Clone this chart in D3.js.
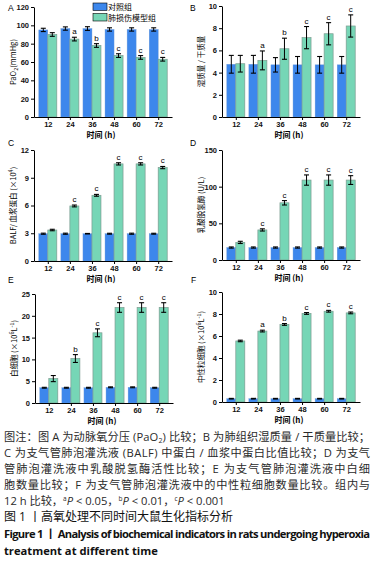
<!DOCTYPE html>
<html>
<head>
<meta charset="utf-8">
<script src="https://cdn.jsdelivr.net/npm/d3@7"></script>
<style>
  body { margin: 0; background: #fff; }
  svg { display: block; }
  .tick text { font-family: "Liberation Sans", Arial, sans-serif; font-size: 7.5px; font-weight: bold; fill: #111; }
</style>
</head>
<body>
<div id="chart"></div>
<script>
// time points (h)
var times = [12, 24, 36, 48, 60, 72];
var seriesNames = ["对照组", "肺损伤模型组"];

// A: PaO2
var paoCtrl = [95, 96.5, 96.5, 95.5, 95.5, 95.5];
var paoCtrlErr = [1.8, 1.8, 2, 1.8, 1.8, 1.8];
var paoModel = [90, 85, 78, 67, 65, 63];
var paoModelErr = [2, 2, 2, 2, 2, 2];
var paoSig = ["", "a", "b", "c", "c", "c"];

// B: wet / dry
var wdCtrl = [4.75, 4.75, 4.7, 4.7, 4.7, 4.7];
var wdCtrlErr = [0.8, 0.8, 0.65, 0.75, 0.75, 0.75];
var wdModel = [4.8, 5.1, 6.15, 7.15, 7.5, 8.2];
var wdModelErr = [0.75, 0.85, 0.95, 1.0, 1.0, 1.0];
var wdSig = ["", "a", "b", "c", "c", "c"];

// C: BALF / plasma protein
var balfCtrl = [2.95, 2.95, 2.95, 2.95, 2.95, 2.95];
var balfCtrlErr = [0.06, 0.06, 0.03, 0.05, 0.06, 0.05];
var balfModel = [3.35, 5.95, 7.1, 10.5, 10.5, 10.1];
var balfModelErr = [0.08, 0.1, 0.1, 0.12, 0.12, 0.12];
var balfSig = ["", "c", "c", "c", "c", "c"];

// D: LDH
var ldhCtrl = [17, 17, 17, 17, 17, 17];
var ldhCtrlErr = [0.8, 0.8, 0.8, 0.8, 0.8, 0.8];
var ldhModel = [24, 41, 78, 109, 109, 109];
var ldhModelErr = [1.5, 1.5, 3, 7, 7, 6];
var ldhSig = ["", "c", "c", "c", "c", "c"];

// E: white cells
var wbcCtrl = [3.5, 3.5, 3.5, 3.6, 3.6, 3.5];
var wbcCtrlErr = [0.1, 0.1, 0.1, 0.1, 0.1, 0.1];
var wbcModel = [5.6, 10.2, 16.1, 21.9, 21.9, 21.9];
var wbcModelErr = [0.7, 0.9, 0.9, 1.1, 1.1, 1.1];
var wbcSig = ["", "b", "c", "c", "c", "c"];

// F: neutrophils
var neuCtrl = [0.3, 0.3, 0.3, 0.3, 0.3, 0.3];
var neuCtrlErr = [0.03, 0.03, 0.03, 0.03, 0.03, 0.03];
var neuModel = [5.55, 6.45, 7.05, 8.05, 8.25, 8.1];
var neuModelErr = [0.07, 0.08, 0.08, 0.08, 0.08, 0.08];
var neuSig = ["", "a", "b", "c", "c", "c"];

var blue = "#3d87ec", green = "#76d6b6";

const svg = d3.select("#chart").append("svg")
    .attr("width", 374).attr("height", 562);

var cjk = "'Noto Sans CJK SC', 'Liberation Sans', sans-serif";

function drawPanel(p) {
    var g = svg.append("g");

    var x = d3.scalePoint().domain(times).range([p.left, p.right]).padding(0.625);
    var y = d3.scaleLinear().domain([0, p.ymax]).range([p.bottom, p.top]);
    var bw = 9;

    // bars
    g.selectAll(".bc").data(p.ctrl).join("rect")
        .attr("x", (d, i) => x(times[i]) - bw)
        .attr("y", d => y(d))
        .attr("width", bw)
        .attr("height", d => y(0) - y(d))
        .attr("fill", blue).attr("stroke", "#6b9ad8").attr("stroke-width", 0.4);
    g.selectAll(".bm").data(p.model).join("rect")
        .attr("x", (d, i) => x(times[i]))
        .attr("y", d => y(d))
        .attr("width", bw)
        .attr("height", d => y(0) - y(d))
        .attr("fill", green).attr("stroke", "#7d9c91").attr("stroke-width", 0.7);

    // error bars
    function errBars(vals, errs, off) {
        vals.forEach(function (v, i) {
            var cx = x(times[i]) + off;
            var y1 = y(v + errs[i]), y2 = y(v - errs[i]);
            g.append("line").attr("x1", cx).attr("x2", cx).attr("y1", y1).attr("y2", y2)
                .attr("stroke", "#000").attr("stroke-width", 1);
            [y1, y2].forEach(function (yy) {
                g.append("line").attr("x1", cx - 2.5).attr("x2", cx + 2.5).attr("y1", yy).attr("y2", yy)
                    .attr("stroke", "#000").attr("stroke-width", 1.1);
            });
        });
    }
    errBars(p.ctrl, p.ctrlErr, -bw / 2);
    errBars(p.model, p.modelErr, bw / 2);

    // significance letters
    p.sig.forEach(function (s, i) {
        if (!s) return;
        g.append("text")
            .attr("x", x(times[i]) + bw / 2)
            .attr("y", y(p.model[i] + p.modelErr[i]) - 3)
            .attr("text-anchor", "middle")
            .attr("font-family", "'Liberation Sans', Arial, sans-serif")
            .attr("font-size", 8)
            .text(s);
    });

    // axes
    g.append("g").attr("transform", `translate(0,${p.bottom})`)
        .call(d3.axisBottom(x).tickSize(3).tickSizeOuter(0).tickPadding(2));
    g.append("g").attr("transform", `translate(${p.left},0)`)
        .call(d3.axisLeft(y).tickValues(d3.range(0, p.ymax + 0.001, p.step)).tickSize(3).tickSizeOuter(0).tickPadding(2));
    g.selectAll(".domain").attr("stroke", "#000");
    g.selectAll(".tick line").attr("stroke", "#000");

    // panel letter
    g.append("text").attr("x", p.lx).attr("y", p.ly)
        .attr("font-family", "'Liberation Sans', Arial, sans-serif").attr("font-size", 8.5)
        .text(p.letter);

    // x label
    g.append("text").attr("x", (p.left + p.right) / 2 - 2).attr("y", p.bottom + 21)
        .attr("text-anchor", "middle").attr("font-family", cjk).attr("font-size", 8).attr("font-weight", "bold")
        .text("时间 (h)");

    // y label
    var yl = g.append("text")
        .attr("transform", `translate(${p.left - 18},${(p.top + p.bottom) / 2}) rotate(-90)`)
        .attr("text-anchor", "middle").attr("font-family", cjk).attr("font-size", 7.5);
    p.ylabel(yl);
    return g;
}

function sup(t, s, rest) {
    t.append("tspan").attr("font-size", 5.5).attr("dy", -3).text(s);
    t.append("tspan").attr("dy", 3).text(rest || "");
}

drawPanel({ left: 34, right: 172, top: 7, bottom: 117, ymax: 120, step: 20, letter: "A", lx: 8, ly: 11,
    ctrl: paoCtrl, ctrlErr: paoCtrlErr, model: paoModel, modelErr: paoModelErr, sig: paoSig,
    ylabel: t => { t.append("tspan").text("PaO"); t.append("tspan").attr("font-size", 5.5).attr("dy", 2).text("2");
        t.append("tspan").attr("dy", -2).text("(mmHg)"); } });

drawPanel({ left: 222, right: 360, top: 6, bottom: 117, ymax: 10, step: 2, letter: "B", lx: 190, ly: 11,
    ctrl: wdCtrl, ctrlErr: wdCtrlErr, model: wdModel, modelErr: wdModelErr, sig: wdSig,
    ylabel: t => t.text("湿质量 / 干质量") });

drawPanel({ left: 34, right: 172, top: 150, bottom: 261, ymax: 12, step: 3, letter: "C", lx: 8, ly: 146,
    ctrl: balfCtrl, ctrlErr: balfCtrlErr, model: balfModel, modelErr: balfModelErr, sig: balfSig,
    ylabel: t => { t.append("tspan").text("BALF/ 血浆蛋白 (×10"); sup(t, "4", ")"); } });

drawPanel({ left: 222, right: 360, top: 150, bottom: 260, ymax: 150, step: 50, letter: "D", lx: 190, ly: 146,
    ctrl: ldhCtrl, ctrlErr: ldhCtrlErr, model: ldhModel, modelErr: ldhModelErr, sig: ldhSig,
    ylabel: t => t.text("乳酸脱氢酶 (U/L)") });

drawPanel({ left: 35, right: 173, top: 294, bottom: 403, ymax: 25, step: 5, letter: "E", lx: 8, ly: 283,
    ctrl: wbcCtrl, ctrlErr: wbcCtrlErr, model: wbcModel, modelErr: wbcModelErr, sig: wbcSig,
    ylabel: t => { t.append("tspan").text("白细胞 (×10"); sup(t, "6", "L"); sup(t, "-1", ")"); } });

drawPanel({ left: 222, right: 360, top: 292, bottom: 402, ymax: 10, step: 2, letter: "F", lx: 191, ly: 283,
    ctrl: neuCtrl, ctrlErr: neuCtrlErr, model: neuModel, modelErr: neuModelErr, sig: neuSig,
    ylabel: t => { t.append("tspan").text("中性粒细胞 (×10"); sup(t, "6", "L"); sup(t, "-1", ")"); } });

// legend in panel A
var legend = svg.append("g");
[blue, green].forEach(function (c, i) {
    legend.append("rect").attr("x", 93).attr("y", 3 + i * 10.5).attr("width", 14).attr("height", 7.5)
        .attr("fill", c).attr("stroke", "#000").attr("stroke-width", 0.6);
    legend.append("text").attr("x", 108).attr("y", 10 + i * 10.5)
        .attr("font-family", cjk).attr("font-size", 8).text(seriesNames[i]);
});

// caption
var cap = svg.append("g").attr("font-family", "'Open Sans', 'Noto Sans CJK SC', sans-serif").attr("fill", "#2a2a2a");
var capFont = 11.2;
function capLine(yy, justify) {
    var t = cap.append("text").attr("x", 4).attr("y", yy).attr("font-size", capFont);
    if (justify) t.attr("textLength", 366).attr("lengthAdjust", "spacing");
    return t;
}
var l1 = capLine(441, true);
l1.append("tspan").text("图注：图 A 为动脉氧分压 (PaO");
l1.append("tspan").attr("font-size", 7).attr("dy", 2).text("2");
l1.append("tspan").attr("dy", -2).text(") 比较；B 为肺组织湿质量 / 干质量比较；");
capLine(457, true).text("C 为支气管肺泡灌洗液 (BALF) 中蛋白 / 血浆中蛋白比值比较；D 为支气");
capLine(473, true).text("管肺泡灌洗液中乳酸脱氢酶活性比较；E 为支气管肺泡灌洗液中白细");
capLine(489, true).text("胞数量比较；F 为支气管肺泡灌洗液中的中性粒细胞数量比较。组内与");
var l5 = capLine(505, false);
l5.append("tspan").text("12 h 比较，");
[["a", "0.05"], ["b", "0.01"], ["c", "0.001"]].forEach(function (s, i) {
    l5.append("tspan").attr("font-size", 6.5).attr("dy", -4).text(s[0]);
    l5.append("tspan").attr("dy", 4).attr("font-style", "italic").text("P");
    l5.append("tspan").text(" < " + s[1] + (i < 2 ? "，" : ""));
});
cap.append("text").attr("x", 4).attr("y", 521).attr("font-size", 12).attr("fill", "#111")
    .text("图 1 丨高氧处理不同时间大鼠生化指标分析");
cap.append("text").attr("x", 4).attr("y", 538).attr("font-size", 11.2).attr("font-weight", "bold").attr("fill", "#111")
    .attr("textLength", 366).attr("lengthAdjust", "spacing")
    .text("Figure 1 丨 Analysis of biochemical indicators in rats undergoing hyperoxia");
cap.append("text").attr("x", 4).attr("y", 555).attr("font-size", 11.2).attr("font-weight", "bold").attr("fill", "#111")
    .text("treatment at different time");
</script>
</body>
</html>
